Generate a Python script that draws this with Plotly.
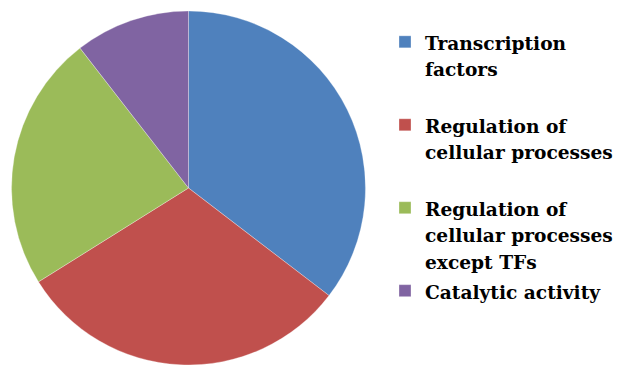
import plotly.graph_objects as go

labels = [
    "Transcription<br>factors<br> ",
    "Regulation of<br>cellular processes<br> ",
    "Regulation of<br>cellular processes<br>except TFs",
    "Catalytic activity",
]
values = [35.4, 30.7, 23.4, 10.5]
colors = ["#4F81BD", "#C0504D", "#9BBB59", "#8064A2"]

legend_labels = [
    "<br>".join('<span style="font-size:18.6px">%s</span>' % part for part in lab.split("<br>"))
    for lab in labels
]

fig = go.Figure(
    go.Pie(
        labels=legend_labels,
        values=values,
        sort=False,
        direction="clockwise",
        rotation=0,
        textinfo="none",
        hoverinfo="label+percent",
        marker=dict(colors=colors, line=dict(color="rgba(255,255,255,0.5)", width=0.6)),
        domain=dict(x=[0.0186, 0.5914], y=[0.0, 0.97]),
    )
)

fig.update_layout(
    width=618,
    height=365,
    margin=dict(l=0, r=0, t=0, b=0, autoexpand=False),
    paper_bgcolor="white",
    plot_bgcolor="white",
    showlegend=True,
    legend=dict(
        x=385 / 618,
        xanchor="left",
        y=1 - 22 / 365,
        yanchor="top",
        valign="top",
        itemwidth=30,
        font=dict(family="DejaVu Serif", size=20.5, color="black", weight="bold"),
        bgcolor="rgba(0,0,0,0)",
    ),
)

fig.write_html("out.html")
